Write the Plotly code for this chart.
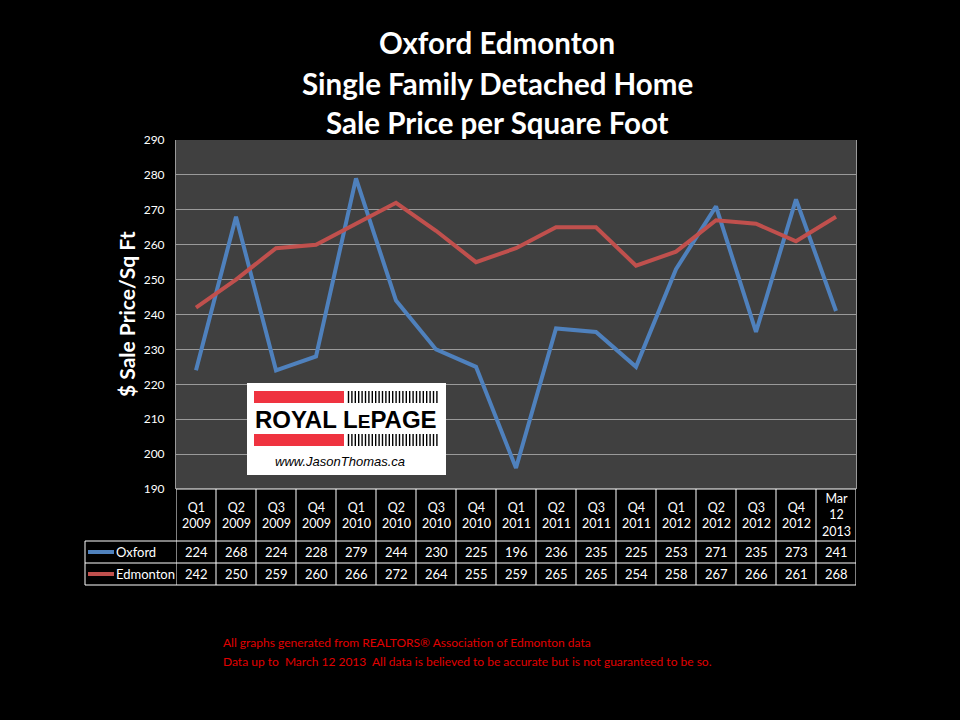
import plotly.graph_objects as go

categories = ["Q1<br>2009", "Q2<br>2009", "Q3<br>2009", "Q4<br>2009",
              "Q1<br>2010", "Q2<br>2010", "Q3<br>2010", "Q4<br>2010",
              "Q1<br>2011", "Q2<br>2011", "Q3<br>2011", "Q4<br>2011",
              "Q1<br>2012", "Q2<br>2012", "Q3<br>2012", "Q4<br>2012",
              "Mar<br>12<br>2013"]
oxford = [224, 268, 224, 228, 279, 244, 230, 225, 196, 236, 235, 225, 253, 271, 235, 273, 241]
edmonton = [242, 250, 259, 260, 266, 272, 264, 255, 259, 265, 265, 254, 258, 267, 266, 261, 268]
series_names = ["Oxford", "Edmonton"]
series_colors = ["#4f81bd", "#c0504d"]
title_lines = ["Oxford Edmonton", "Single Family Detached Home", "Sale Price per Square Foot"]
y_title = "$ Sale Price/Sq Ft"
footnotes = ["All graphs generated from REALTORS\u00ae Association of Edmonton data",
             "Data up to  March 12 2013  All data is believed to be accurate but is not guaranteed to be so."]

W, H = 960, 720
PLOT_L, PLOT_R, PLOT_T, PLOT_B = 176, 856, 140, 489
FONT = "Lato"


def px(x):
    return (x - PLOT_L) / (PLOT_R - PLOT_L)


def py(y):
    return (PLOT_B - y) / (PLOT_B - PLOT_T)


n = len(categories)
xs = list(range(n))
fig = go.Figure()
for name, vals, col in zip(series_names, [oxford, edmonton], series_colors):
    fig.add_trace(go.Scatter(x=xs, y=vals, mode="lines", name=name,
                             line=dict(color=col, width=4), showlegend=False))

fig.update_layout(
    width=W, height=H,
    margin=dict(l=PLOT_L, r=W - PLOT_R, t=PLOT_T, b=H - PLOT_B),
    paper_bgcolor="black", plot_bgcolor="#404040",
    xaxis=dict(range=[-0.5, n - 0.5], showticklabels=False, showgrid=False,
               zeroline=False, showline=False, ticks=""),
    yaxis=dict(range=[190, 290], dtick=10, showgrid=True, gridcolor="#9a9a9a",
               gridwidth=1, zeroline=False, showline=True, linecolor="#9a9a9a",
               mirror=True, tickfont=dict(family=FONT, size=12, color="white"),
               ticks="outside", ticklen=8, tickcolor="black"),
    font=dict(family=FONT, color="white"),
)

ann = []
shapes = []
# title
for t, yy in zip(title_lines, [43, 83, 122]):
    ann.append(dict(text=f"<b>{t}</b>", x=px(497), y=py(yy), xref="paper", yref="paper",
                    showarrow=False, font=dict(family=FONT, size=29.5, color="white"),
                    xanchor="center", yanchor="middle"))
# y title
ann.append(dict(text=f"<b>{y_title}</b>", x=px(126), y=py(314), xref="paper", yref="paper",
                showarrow=False, textangle=-90, font=dict(family=FONT, size=21, color="white"),
                xanchor="center", yanchor="middle"))
# footnotes
for t, yy in zip(footnotes, [642, 661]):
    ann.append(dict(text=t, x=px(221), y=py(yy), xref="paper", yref="paper",
                    showarrow=False, font=dict(family=FONT, size=12, color="#e00000"),
                    xanchor="left", yanchor="middle"))

# data table
LINE = dict(color="white", width=1)
TBL_L, HDR_B, ROW1_B, ROW2_B = 85, 541, 563, 585
shapes.append(dict(type="line", xref="paper", yref="paper", x0=0, x1=1,
                   y0=py(PLOT_B), y1=py(PLOT_B), line=LINE))
for yy in [HDR_B, ROW1_B, ROW2_B]:
    shapes.append(dict(type="line", xref="paper", yref="paper", x0=px(TBL_L), x1=1,
                       y0=py(yy), y1=py(yy), line=LINE))
shapes.append(dict(type="line", xref="paper", yref="paper", x0=px(TBL_L), x1=px(TBL_L),
                   y0=py(HDR_B), y1=py(ROW2_B), line=LINE))
for i in range(n + 1):
    shapes.append(dict(type="line", xref="x", yref="paper", x0=i - 0.5, x1=i - 0.5,
                       y0=py(PLOT_B), y1=py(ROW2_B), line=LINE))
for i, c in enumerate(categories):
    ann.append(dict(text=c, x=i, y=py(515), xref="x", yref="paper", showarrow=False,
                    font=dict(family=FONT, size=12.5, color="white"),
                    xanchor="center", yanchor="middle"))
for vals, name, col, yy in zip([oxford, edmonton], series_names, series_colors, [552, 574]):
    for i, v in enumerate(vals):
        ann.append(dict(text=str(v), x=i, y=py(yy), xref="x", yref="paper", showarrow=False,
                        font=dict(family=FONT, size=13, color="white"),
                        xanchor="center", yanchor="middle"))
    shapes.append(dict(type="line", xref="paper", yref="paper", x0=px(88), x1=px(114),
                       y0=py(yy), y1=py(yy), line=dict(color=col, width=4)))
    ann.append(dict(text=name, x=px(114), y=py(yy), xref="paper", yref="paper",
                    showarrow=False, font=dict(family=FONT, size=13, color="white"),
                    xanchor="left", yanchor="middle"))

# logo
shapes.append(dict(type="rect", xref="paper", yref="paper", x0=px(247), x1=px(446),
                   y0=py(475), y1=py(383), fillcolor="white", line=dict(width=0), layer="above"))
for (y0, y1) in [(391, 403), (434, 446)]:
    shapes.append(dict(type="rect", xref="paper", yref="paper", x0=px(254), x1=px(344),
                       y0=py(y1), y1=py(y0), fillcolor="#ef3340", line=dict(width=0), layer="above"))
    xx = 348.5
    while xx < 438:
        shapes.append(dict(type="line", xref="paper", yref="paper", x0=px(xx), x1=px(xx),
                           y0=py(y1), y1=py(y0), line=dict(color="black", width=1.4), layer="above"))
        xx += 3.4
ann.append(dict(text="<b>ROYAL L<span style='font-size:19px'>E</span>PAGE</b>", x=px(346), y=py(419),
                xref="paper", yref="paper", showarrow=False,
                font=dict(family="Liberation Sans", size=24, color="black"),
                xanchor="center", yanchor="middle"))
ann.append(dict(text="<i>www.JasonThomas.ca</i>", x=px(340), y=py(461),
                xref="paper", yref="paper", showarrow=False,
                font=dict(family="Liberation Sans", size=13, color="black"),
                xanchor="center", yanchor="middle"))

fig.update_layout(shapes=shapes, annotations=ann)
fig.write_html("out.html")
